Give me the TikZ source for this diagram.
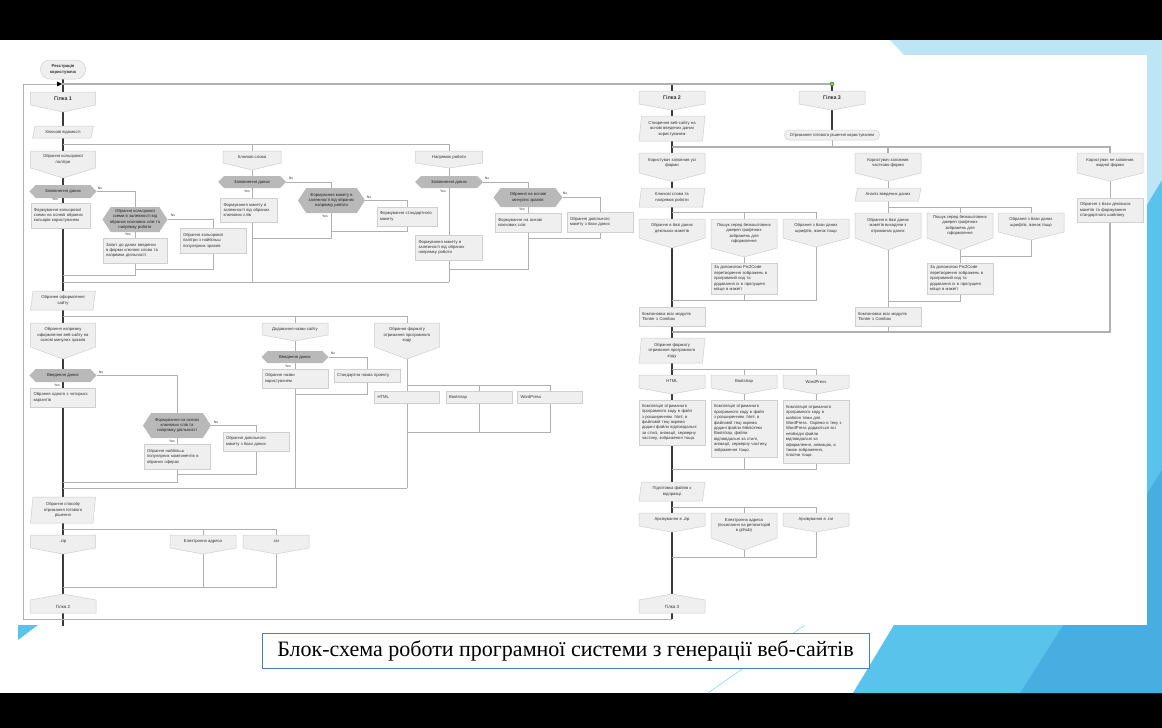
\documentclass[tikz,border=0pt]{standalone}
\usepackage{fontspec}
\setmainfont{Liberation Sans}
\newfontfamily\capfont{Liberation Serif}
\usetikzlibrary{arrows.meta}
\pgfdeclarelayer{deco}
\pgfdeclarelayer{wires}
\pgfsetlayers{deco,wires,main}

\definecolor{boxfill}{HTML}{EFEFEF}
\definecolor{boxline}{HTML}{CFCFCF}
\definecolor{hexfill}{HTML}{B9B9B9}
\definecolor{hextxt}{HTML}{222222}
\definecolor{txtc}{HTML}{333333}
\definecolor{wire}{HTML}{B0B0B0}
\definecolor{wiredark}{HTML}{3A3A3A}
\definecolor{capblue}{HTML}{4A7EC2}
\definecolor{skyA}{HTML}{BEE5F6}
\definecolor{skyB}{HTML}{59C3EC}
\definecolor{skyC}{HTML}{3E9FD8}
\definecolor{skyline}{HTML}{A6DDF4}
\definecolor{dotgreen}{HTML}{86D04A}

\newcommand\bxf{\fontsize{4.2}{5.4}\selectfont}
\newcommand\ynf{\fontsize{3.4}{4}\selectfont}
\newcommand\brf{\fontsize{5.3}{6.5}\selectfont\bfseries}
\newcommand\brsf{\fontsize{4.5}{5.5}\selectfont}

\tikzset{
  outl/.style={fill=boxfill, draw=boxline, line width=0.5pt},
  hexst/.style={fill=hexfill},
  lbl/.style={inner sep=0pt, outer sep=0pt, text=txtc, font=\bxf},
  boxst/.style={lbl, fill=boxfill, draw=boxline, line width=0.5pt, align=left},
  thinln/.style={draw=wire, line width=0.8pt},
  busln/.style={draw=wire, line width=1.1pt},
  mainln/.style={draw=wiredark, line width=1.6pt},
  yn/.style={inner sep=0pt, text=txtc, font=\ynf},
}

% block with a pointed bottom: [opts]{name}{cx}{top}{width}{rect h}{point h}{text}
\newcommand\dnbox[8][]{%
  \pgfmathsetmacro\dbhw{#5/2}%
  \filldraw[outl] ({#3-\dbhw},{#4}) -- ({#3+\dbhw},{#4}) -- ({#3+\dbhw},{#4+#6}) -- ({#3},{#4+#6+#7}) -- ({#3-\dbhw},{#4+#6}) -- cycle;
  \node[lbl, minimum width=#5pt, minimum height=#6pt, align=center, #1] (#2) at ({#3},{#4+#6/2}) {#8};
  \coordinate (#2-tip) at ({#3},{#4+#6+#7});}

% block with a pointed top: [opts]{name}{cx}{tip}{width}{point h}{rect h}{text}
\newcommand\upbx[8][]{%
  \pgfmathsetmacro\dbhw{#5/2}%
  \filldraw[outl] ({#3},{#4}) -- ({#3+\dbhw},{#4+#6}) -- ({#3+\dbhw},{#4+#6+#7}) -- ({#3-\dbhw},{#4+#6+#7}) -- ({#3-\dbhw},{#4+#6}) -- cycle;
  \node[lbl, minimum width=#5pt, minimum height=#7pt, align=center, #1] (#2) at ({#3},{#4+#6+#7/2}) {#8};
  \coordinate (#2-tip) at ({#3},{#4});}

% decision hexagon: [opts]{name}{cx}{cy}{w}{h}{text}
\newcommand\hexbox[7][]{%
  \pgfmathsetmacro\dbhw{#5/2}\pgfmathsetmacro\dbhh{#6/2}\pgfmathsetmacro\dbin{4+#6/6}%
  \fill[hexst] ({#3-\dbhw},{#4}) -- ({#3-\dbhw+\dbin},{#4-\dbhh}) -- ({#3+\dbhw-\dbin},{#4-\dbhh}) -- ({#3+\dbhw},{#4}) -- ({#3+\dbhw-\dbin},{#4+\dbhh}) -- ({#3-\dbhw+\dbin},{#4+\dbhh}) -- cycle;
  \node[lbl, text=hextxt, minimum width=#5pt, minimum height=#6pt, align=center, #1] (#2) at ({#3},{#4}) {#7};}

% data parallelogram: [opts]{name}{cx}{cy}{w}{h}{text}
\newcommand\slantbox[7][]{%
  \pgfmathsetmacro\dbhw{#5/2}\pgfmathsetmacro\dbhh{#6/2}%
  \filldraw[outl] ({#3-\dbhw},{#4+\dbhh}) -- ({#3-\dbhw+2.5},{#4-\dbhh}) -- ({#3+\dbhw},{#4-\dbhh}) -- ({#3+\dbhw-2.5},{#4+\dbhh}) -- cycle;
  \node[lbl, minimum width=#5pt, minimum height=#6pt, align=center, #1] (#2) at ({#3},{#4}) {#7};}

% process box: [opts]{name}{cx}{cy}{w}{h}{text}
\newcommand\plainbox[7][]{%
  \pgfmathsetmacro\dbtw{#5-6}%
  \node[boxst, minimum width=#5pt, minimum height=#6pt, text width=\dbtw pt, #1] (#2) at ({#3},{#4}) {#7};}

% terminal: [opts]{name}{cx}{cy}{w}{h}{text}
\newcommand\stadium[7][]{%
  \pgfmathsetmacro\dbrc{#6/2-0.3}%
  \node[lbl, fill=boxfill, draw=boxline, line width=0.5pt, rounded corners=\dbrc pt, minimum width=#5pt, minimum height=#6pt, align=center, #1] (#2) at ({#3},{#4}) {#7};}

\begin{document}
\begin{tikzpicture}[x=1pt,y=-1pt]
\useasboundingbox (0,0) rectangle (1162,728);

\begin{pgfonlayer}{deco}
  \fill[white] (0,40) rectangle (1162,693);
  \fill[black] (0,0) rectangle (1162,40);
  \fill[black] (0,693) rectangle (1162,728);
  \fill[skyA] (890,40) -- (1162,40) -- (1162,330) -- cycle;
  \fill[skyB] (853,693) -- (1162,180) -- (1162,693) -- cycle;
  \fill[skyC, opacity=0.6] (1020,693) -- (1162,470) -- (1162,693) -- cycle;
  \fill[skyB] (18,625) -- (38,625) -- (18,640) -- cycle;
  \draw[skyline, line width=0.8pt] (708,693) -- (805,625);
  \fill[white] (20,55) rectangle (1147,625);
\end{pgfonlayer}

% ---------- branch 1 ----------
\stadium[font=\bxf\bfseries]{reg}{63}{69.5}{45}{19}{Реєстрація\\користувача}
\dnbox[font=\brf]{g1}{63}{92}{65}{13}{7}{Гілка 1}
\slantbox{kv}{63}{132}{61}{12}{Ключові відомості}
\dnbox{pal}{63}{151}{65}{17}{10}{Обрання кольорової\\палітри}
\hexbox{hz1}{63}{191.5}{67}{13}{Заповнення даних}
\plainbox{fks}{60.5}{215.5}{59}{25}{Формування кольорової\\схеми на основі обраних\\кольорів користувачем}
\hexbox{hz2}{135}{219.5}{65}{25}{Обрання кольорової\\схеми в залежності від\\обраних ключових слів та\\напрямку роботи}
\plainbox{zap}{135}{250.5}{64}{25}{Запит до даних введених\\в форми ключові слова та\\напрямки діяльності}
\plainbox{pop}{213}{240.5}{66}{25}{Обрання кольорової\\палітри з найбільш\\популярних зразків}

\dnbox{ks}{252}{151}{58}{12}{7}{Ключові слова}
\hexbox{hk1}{252}{182}{68}{12}{Заповнення даних}
\plainbox{fmk}{249}{210}{57}{24}{Формування макету в\\залежності від обраних\\ключових слів}
\hexbox{hk2}{331.5}{200.5}{67}{25}{Формування макету в\\залежності від обраних\\напрямку роботи}
\plainbox{fst}{407}{216.5}{60}{19}{Формування стандартного\\макету}

\dnbox{nr}{449}{151}{67}{12}{5}{Напрямок роботи}
\hexbox{hn1}{449}{182}{68}{12}{Заповнення даних}
\plainbox{fmn}{449}{247.5}{67}{25}{Формування макету в\\залежності від обраних\\напрямку роботи}
\hexbox{hz3}{528}{197.5}{69}{19}{Обрання на основі\\минулих зразків}
\plainbox{fok}{528}{222.5}{66}{19}{Формування на основі\\ключових слів}
\plainbox{odm}{600}{222}{66}{20}{Обрання довільного\\макету з бази даних}

\slantbox{oos}{63}{300.5}{65}{19}{Обрання оформлення\\сайту}
\dnbox{onz}{63}{323}{65}{24}{12}{Обрання напрямку\\оформлення веб-сайту на\\основі минулих зразків}
\hexbox{vd1}{63}{375.5}{67}{13}{Введення даних}
\plainbox{o4}{63}{397.5}{65}{19}{Обрання одного з чотирьох\\варіантів}
\hexbox{hz4}{177}{425.5}{68}{25}{Формування на основі\\ключових слів та\\напрямку діяльності}
\plainbox{onp}{177}{456.5}{66}{25}{Обрання найбільш\\популярних компонентів в\\обраних сферах}
\plainbox{odb}{256}{441.5}{66}{19}{Обрання довільного\\макету з бази даних}

\dnbox{dns}{295}{323}{66}{12}{6}{Додавання назви сайту}
\hexbox{vd2}{295}{357}{67}{12}{Введення даних}
\plainbox{onk}{295}{378.5}{66}{19}{Обрання назви\\користувачем}
\plainbox{snp}{367}{375.5}{66}{13}{Стандартна назва проекту}
\dnbox{ofk}{407}{323}{65}{24}{12}{Обрання формату\\отримання програмного\\коду}
\plainbox{ht1}{407}{397}{65}{12}{HTML}
\plainbox{bs1}{479}{397}{66}{12}{Bootstrap}
\plainbox{wp1}{550}{397}{65}{12}{WordPress}

\slantbox{osp}{63}{510}{65}{26}{Обрання способу\\отримання готового\\рішення}
\dnbox{zp1}{63}{535}{65}{13}{6}{.zip}
\dnbox{ea1}{203}{535}{66}{13}{6}{Електронна адреса}
\dnbox{rr1}{276}{535}{66}{13}{6}{.rar}
\upbx[font=\brsf]{g2b}{63}{594}{66}{6}{13}{Гілка 2}

% ---------- branch 2 ----------
\dnbox[font=\brf]{g2}{672}{91}{66}{13}{6}{Гілка 2}
\slantbox{sw}{672}{128.5}{66}{25}{Створення веб-сайту на\\основі введених даних\\користувачем}
\dnbox{kz}{672}{153}{66}{20}{8.5}{Користувач заповнив усі\\форми}
\slantbox{ksn}{672}{197.5}{66}{19}{Ключові слова та\\напрямок роботи}
\dnbox{obd}{672}{219}{66}{19}{10}{Обрання в базі даних\\декількох макетів}
\dnbox{psk}{744}{219}{66}{29}{9}{Пошук серед безкоштовних\\джерел графічних\\зображень для\\оформлення}
\dnbox{osh}{816}{219}{66}{19}{9}{Обрання з бази даних\\шрифтів, іконок тощо}
\plainbox{p2c}{744}{278.5}{66}{31}{За допомогою Pix2Code\\перетворення зображень в\\програмний код та\\додавання їх в пропущені\\місця в макеті}
\plainbox{kmp}{672}{316.5}{66}{19}{Компоновка всіх модулів\\Tkinter з Combox}
\slantbox{ofk2}{672}{350.5}{66}{25}{Обрання формату\\отримання програмного\\коду}
\dnbox{ht2}{672}{375}{66}{13}{6}{HTML}
\dnbox{bs2}{744}{375}{66}{13}{6}{Bootstrap}
\dnbox{wp2}{816}{375}{66}{13}{6}{WordPress}
\plainbox{hd}{672}{422.5}{66}{45}{Компіляція отриманого\\програмного коду в файл\\з розширенням .html, в\\файловій теці окремо\\додані файли відповідальні\\за стилі, анімації, серверну\\частину, зображення тощо.}
\plainbox{bd}{744}{428.5}{66}{57}{Компіляція отриманого\\програмного коду в файл\\з розширенням .html, в\\файловій теці окремо\\додані файли бібліотеки\\Bootstrap, файли\\відповідальні за стилі,\\анімації, серверну частину,\\зображення тощо.}
\plainbox{wd}{816}{431.5}{66}{63}{Компіляція отриманого\\програмного коду в\\шаблон теми для\\WordPress. Окремо в теку з\\WordPress додаються всі\\необхідні файли\\відповідальні за\\оформлення, анімацію, а\\також зображення,\\плагіни тощо.}
\slantbox{pf}{672}{491.5}{66}{19}{Підготовка файлів к\\відправці}
\dnbox{zp2}{672}{513}{66}{13}{6}{Архівування в .zip}
\dnbox{ea2}{744}{513}{66}{25}{12}{Електронна адреса\\(посилання на репозиторій\\в github)}
\dnbox{rr2}{816}{513}{66}{13}{6}{Архівування в .rar}
\upbx[font=\brsf]{g3b}{672}{594}{66}{6}{13}{Гілка 3}

% ---------- branch 3 ----------
\dnbox[font=\brf]{g3}{832}{91}{66}{13}{6}{Гілка 3}
\stadium{otr}{832}{135}{95}{10}{Отримання готового рішення користувачем}
\dnbox{kch}{888}{153}{66}{20}{8}{Користувач заповнив\\частково форми}
\slantbox{anz}{888}{194.5}{66}{13}{Аналіз введених даних}
\dnbox{omv}{888}{213}{66}{25}{12}{Обрання в базі даних\\макетів виходячи з\\отриманих даних}
\dnbox{pk2}{960}{213}{66}{25}{12}{Пошук серед безкоштовних\\джерел графічних\\зображень для\\оформлення}
\dnbox{os2}{1031}{213}{66}{19}{8}{Обрання з бази даних\\шрифтів, іконок тощо}
\plainbox{pc2}{960}{278.5}{66}{31}{За допомогою Pix2Code\\перетворення зображень в\\програмний код та\\додавання їх в пропущені\\місця в макеті}
\plainbox{km2}{888}{316.5}{66}{19}{Компоновка всіх модулів\\Tkinter з Combox}
\dnbox{kne}{1110}{153}{66}{20}{8}{Користувач не заповнив\\жодної форми}
\plainbox{obz}{1110}{210}{66}{24}{Обрання з бази декількох\\макетів та формування\\стандартного шаблону}

\node[circle, inner sep=0pt, minimum size=4pt, fill=dotgreen, draw=black!70, line width=0.4pt] (gdot) at (832,84) {};

% decision answers
\node[yn] (y1) at (55,199) {Yes};   \node[yn] (n1) at (100,188) {No};
\node[yn] (y2) at (128,234) {Yes};  \node[yn] (n2) at (173,215) {No};
\node[yn] (y3) at (247,191) {Yes};  \node[yn] (n3) at (291,178) {No};
\node[yn] (y4) at (325,216) {Yes};  \node[yn] (n4) at (369,197) {No};
\node[yn] (y5) at (443,191) {Yes};  \node[yn] (n5) at (487,178) {No};
\node[yn] (y6) at (522,209) {Yes};  \node[yn] (n6) at (565,193) {No};
\node[yn] (y7) at (57,385) {Yes};   \node[yn] (n7) at (101,372) {No};
\node[yn] (y8) at (172,441) {Yes};  \node[yn] (n8) at (216,422) {No};
\node[yn] (y9) at (288,366) {Yes};  \node[yn] (n9) at (333,353) {No};

% caption
\node[draw=capblue, line width=1pt, fill=white, minimum width=607pt, minimum height=35pt, inner sep=0pt, font=\capfont\fontsize{22}{26}\selectfont] (cap) at (565.5,650.5) {Блок-схема роботи програмної системи з генерації веб-сайтів};

% ---------- connectors ----------
\begin{pgfonlayer}{wires}
  \coordinate (fBL) at (23,619);
  \coordinate (fTL) at (23,84);
  \coordinate (fA) at (62.2,84);
  \coordinate (g2top) at (672,84);
  \coordinate (g2end) at (63,626);
  \draw[mainln] (reg.south) -- (g2b-tip);
  \draw[mainln] (g2b.south) -- (g2end);
  \draw[mainln] (g2top) -- (g3b-tip);
  \draw[mainln] (g3b.south) -- (g3b.south |- fBL);
  \draw[mainln] (gdot) -- (otr.north);
  \draw[thinln, -{Triangle[length=5pt,width=4.5pt,color=black]}] (g3b.south |- fBL) -- (fBL) -- (fTL) -- (fA);
  \draw[busln] (fA) -- (gdot);

  % branch 1, first stage
  \coordinate (j1) at (63,144);
  \draw[thinln] (j1) -| (ks.north);
  \draw[thinln] (j1) -| (nr.north);
  \draw[thinln] (hz1.east) -| (hz2.north);
  \draw[thinln] (hz2.south) -- (zap.north);
  \coordinate (c1a) at (63,275);
  \draw[thinln] (zap.south) |- (c1a);
  \draw[thinln] (hz2.east) -| (pop.north);
  \coordinate (c1b) at (135,269);
  \draw[thinln] (pop.south) |- (c1b);

  \coordinate (m2L) at (63,282);
  \coordinate (m2R) at (449,282);
  \draw[thinln] (m2L) -- (m2R);
  \draw[thinln] (ks-tip) -- (hk1.north);
  \draw[thinln] (hk1.south) -- (hk1.south |- m2L);
  \draw[thinln] (hk1.east) -| (hk2.north);
  \coordinate (c2a) at (252,238);
  \draw[thinln] (hk2.south) |- (c2a);
  \draw[thinln] (hk2.east) -| (fst.north);
  \coordinate (c2b) at (331.5,231);
  \draw[thinln] (fst.south) |- (c2b);

  \draw[thinln] (nr-tip) -- (hn1.north);
  \draw[thinln] (hn1.south) -- (m2R);
  \draw[thinln] (hn1.east) -| (hz3.north);
  \draw[thinln] (hz3.south) -- (fok.north);
  \coordinate (c3a) at (449,269);
  \draw[thinln] (fok.south) |- (c3a);
  \draw[thinln] (hz3.east) -| (odm.north);
  \coordinate (c3b) at (528,238);
  \draw[thinln] (odm.south) |- (c3b);

  % branch 1, second stage
  \coordinate (j2) at (63,316);
  \draw[thinln] (j2) -| (dns.north);
  \draw[thinln] (j2) -| (ofk.north);
  \draw[thinln] (vd1.east) -| (hz4.north);
  \draw[thinln] (hz4.south) -- (onp.north);
  \coordinate (c5a) at (63,482);
  \draw[thinln] (onp.south) |- (c5a);
  \draw[thinln] (hz4.east) -| (odb.north);
  \coordinate (c5b) at (177,474);
  \draw[thinln] (odb.south) |- (c5b);
  \draw[thinln] (dns-tip) -- (vd2.north);
  \coordinate (c4m) at (295,488);
  \draw[thinln] (vd2.south) -- (c4m);
  \draw[thinln] (vd2.east) -| (snp.north);
  \coordinate (c4a) at (295,394);
  \draw[thinln] (snp.south) |- (c4a);
  \coordinate (j3) at (407,385);
  \coordinate (c4c) at (407,488);
  \draw[thinln] (ofk-tip) -- (c4c);
  \draw[thinln] (j3) -| (bs1.north);
  \draw[thinln] (j3) -| (wp1.north);
  \coordinate (c4b) at (407,432);
  \draw[thinln] (bs1.south) |- (c4b);
  \draw[thinln] (wp1.south) |- (c4b);
  \coordinate (m3L) at (63,488);
  \draw[thinln] (m3L) -- (c4c);

  % branch 1, third stage
  \coordinate (j4) at (63,529);
  \draw[thinln] (j4) -| (ea1.north);
  \draw[thinln] (j4) -| (rr1.north);
  \coordinate (m4L) at (63,587);
  \draw[thinln] (ea1-tip) |- (m4L);
  \draw[thinln] (rr1-tip) |- (m4L);

  % branch 2
  \coordinate (j5) at (672,147);
  \draw[busln] (j5) -| (kch.north);
  \draw[busln] (j5) -| (kne.north);
  \draw[thinln] (otr.south) -- (otr.south |- j5);
  \coordinate (j6) at (672,212);
  \draw[thinln] (j6) -| (psk.north);
  \draw[thinln] (j6) -| (osh.north);
  \draw[thinln] (psk-tip) -- (p2c.north);
  \coordinate (c6a) at (672,300);
  \draw[thinln] (p2c.south) |- (c6a);
  \draw[thinln] (osh-tip) |- (c6a);
  \coordinate (c6b) at (672,332);
  \draw[busln] (obz.south) |- (c6b);
  \draw[thinln] (km2.south) -- (km2.south |- c6b);
  \coordinate (j7) at (672,369);
  \draw[thinln] (j7) -| (bs2.north);
  \draw[thinln] (j7) -| (wp2.north);
  \draw[thinln] (bs2-tip) -- (bd.north);
  \draw[thinln] (wp2-tip) -- (wd.north);
  \coordinate (c6c) at (672,469);
  \draw[thinln] (bd.south) |- (c6c);
  \draw[thinln] (wd.south) |- (c6c);
  \coordinate (j8) at (672,507);
  \draw[thinln] (j8) -| (ea2.north);
  \draw[thinln] (j8) -| (rr2.north);
  \coordinate (c6d) at (672,557);
  \draw[thinln] (ea2-tip) |- (c6d);
  \draw[thinln] (rr2-tip) |- (c6d);

  % branch 3
  \draw[mainln] (g3-tip) -- (otr.north);
  \draw[thinln] (kch-tip) -- (anz.north);
  \draw[thinln] (anz.south) -- (omv.north);
  \coordinate (j9) at (888,207);
  \draw[thinln] (j9) -| (pk2.north);
  \draw[thinln] (j9) -| (os2.north);
  \draw[thinln] (pk2-tip) -- (pc2.north);
  \coordinate (c7a) at (888,301);
  \draw[thinln] (pc2.south) |- (c7a);
  \coordinate (c7b) at (960,256);
  \draw[thinln] (os2-tip) |- (c7b);
  \draw[thinln] (omv-tip) -- (km2.north);
  \draw[thinln] (kne-tip) -- (obz.north);
\end{pgfonlayer}
\end{tikzpicture}
\end{document}
